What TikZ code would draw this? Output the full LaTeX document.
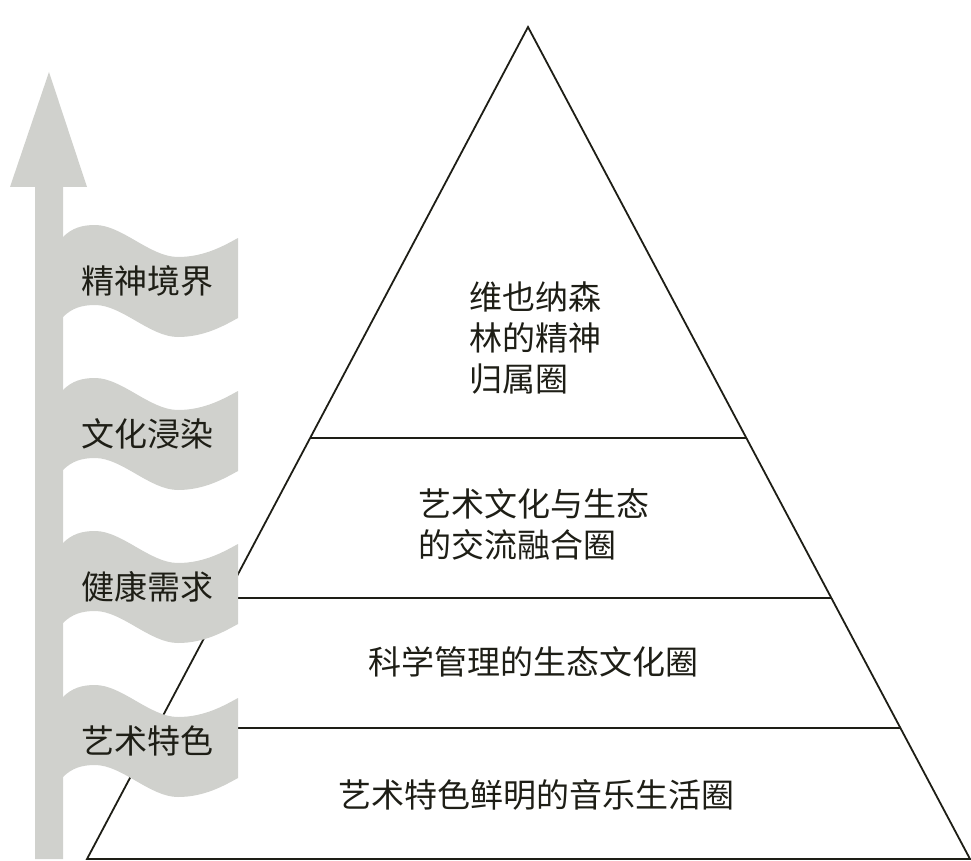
\documentclass[tikz,border=0pt]{standalone}
\usepackage{fontspec}
\newfontfamily\cjk{Noto Sans CJK SC}
\usetikzlibrary{calc}
\definecolor{bgray}{RGB}{208,209,205}
\definecolor{ink}{RGB}{30,30,22}
\begin{document}
\begin{tikzpicture}[x=1pt,y=-1pt,
  pyr/.style={draw=ink,line width=1.8pt,line join=miter},
  lbl/.style={font=\cjk\fontsize{33}{41}\selectfont,text=ink,inner sep=0pt},
  band/.style={fill=bgray,draw=none}]
\useasboundingbox (0,0) rectangle (971,861);
% pyramid
\coordinate (apex) at (528,27);
\coordinate (bl) at (87,859);
\coordinate (br) at (970,859);
\draw[pyr] (apex) -- (bl) -- (br) -- cycle;
\draw[pyr] ($(apex)!0.494!(bl)$) coordinate (l1) -- ($(apex)!0.494!(br)$) coordinate (r1);
\draw[pyr] ($(apex)!0.686!(bl)$) coordinate (l2) -- ($(apex)!0.686!(br)$) coordinate (r2);
\draw[pyr] ($(apex)!0.8425!(bl)$) coordinate (l3) -- ($(apex)!0.8425!(br)$) coordinate (r3);
% arrow
\fill[bgray] (35,859) -- (35,187) -- (10,187) -- (49,72) -- (87,187) -- (63,187) -- (63,859) -- cycle;
% banners
\foreach \yy/\tt in {237/精神境界,390/文化浸染,543/健康需求,697/艺术特色}{
  \begin{scope}[shift={(0,\yy)}]
    \fill[band] (60,0) -- (63,0) .. controls (72,-9) and (82,-12) .. (95,-12)
      .. controls (122,-12) and (150,20) .. (178,20)
      .. controls (205,20) and (225,8) .. (238,1)
      -- (238,81)
      .. controls (225,88) and (205,100) .. (178,100)
      .. controls (150,100) and (122,68) .. (95,68)
      .. controls (82,68) and (72,71) .. (63,80) -- (60,80) -- cycle;
    \node[lbl] (b\yy) at (147,44) {\tt};
  \end{scope}
}
% pyramid texts
\node[lbl,align=left,anchor=west] (t1) at (469,338) {维也纳森\\林的精神\\归属圈};
\node[lbl,align=left,anchor=west] (t2) at (418,524) {艺术文化与生态\\的交流融合圈};
\node[lbl] (t3) at (533,662) {科学管理的生态文化圈};
\node[lbl] (t4) at (536,795) {艺术特色鲜明的音乐生活圈};
\end{tikzpicture}
\end{document}
